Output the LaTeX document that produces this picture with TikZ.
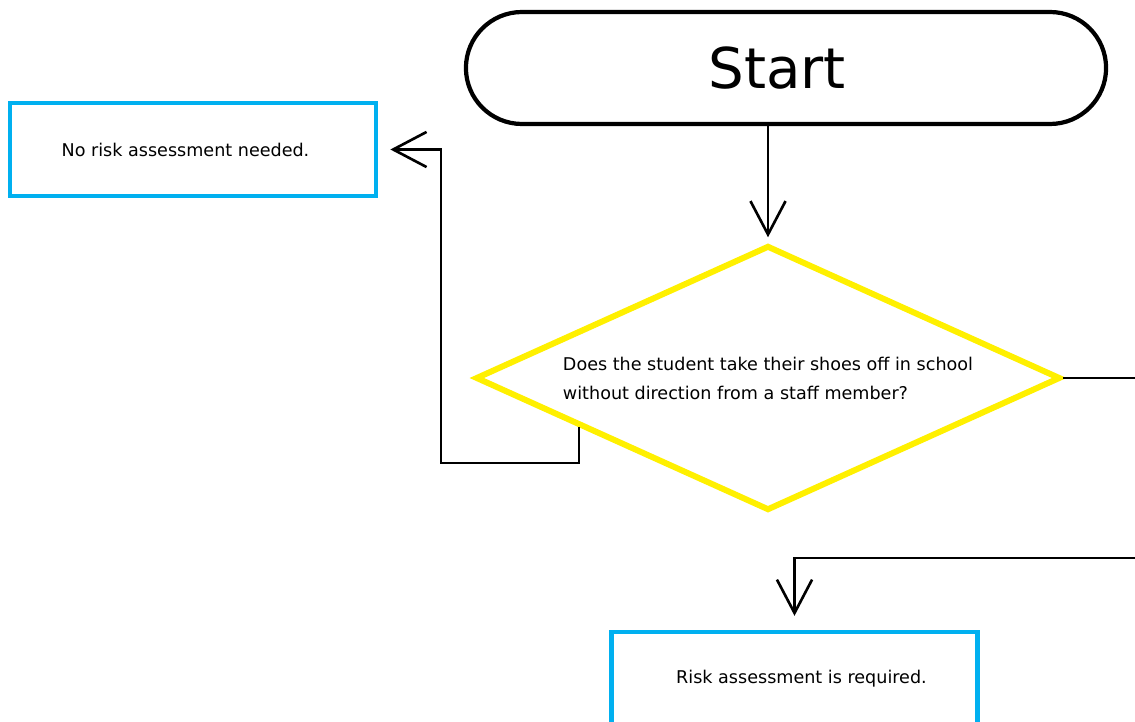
\documentclass[tikz,border=0pt]{standalone}
\usepackage{fontspec}
\setmainfont{DejaVu Sans}
\usetikzlibrary{shapes.geometric,shapes.misc,arrows.meta,calc}
\definecolor{boxblue}{HTML}{00B0F0}
\definecolor{qyellow}{RGB}{255,240,0}
\tikzset{
  terminal/.style={draw, rounded rectangle, line width=2.4pt, minimum width=13.04cm,
    minimum height=2.24cm, font=\fontsize{32}{36}\selectfont},
  decision/.style={draw=qyellow, fill=white, diamond, aspect=2.2, line width=3.4pt,
    minimum width=11.7cm, minimum height=5.3cm, inner sep=0pt, align=left,
    font=\fontsize{10}{16.5}\selectfont},
  outcome/.style={draw=boxblue, line width=2.4pt, minimum width=7.32cm,
    minimum height=1.86cm, font=\fontsize{10}{12}\selectfont},
  flow/.style={line width=1.5pt, -{Straight Barb[length=19pt,width=20pt]}},
}
\begin{document}
\begin{tikzpicture}[x=0.02cm,y=-0.02cm] %[>=latex,shorten >=2pt]
  \useasboundingbox (0,0) rectangle (1135,722);
  \clip (0,0) rectangle (1135,722);
  \node[terminal] (start) at (786,68) {\hspace*{-0.36cm}Start};
  \node[decision] (q) at (768,378)
    {Does the student take their shoes off in school\\without direction from a staff member?};
  \node[outcome] (norisk) at (193,149.5) {\hspace*{-0.3cm}No risk assessment needed.};
  \node[outcome] (risk) at (794.5,678.5) {\hspace*{0.28cm}Risk assessment is required.};
  \coordinate (qleg) at ($(q.west)!0.36!(q.south)$);
  \coordinate (loop) at (441,463);
  \coordinate (yesout) at (1145,378);
  \coordinate (yesin) at (1145,558);
  \draw[flow, shorten >=3pt] (start.south -| q.north) -- (q.north);
  \draw[flow, shorten >=7pt] (qleg) |- (loop) |- (norisk.east);
  \draw[line width=1.5pt] (q.east) -- (yesout);
  \draw[flow, shorten >=8pt] (yesin) -| (risk.north);
\end{tikzpicture}
\end{document}
